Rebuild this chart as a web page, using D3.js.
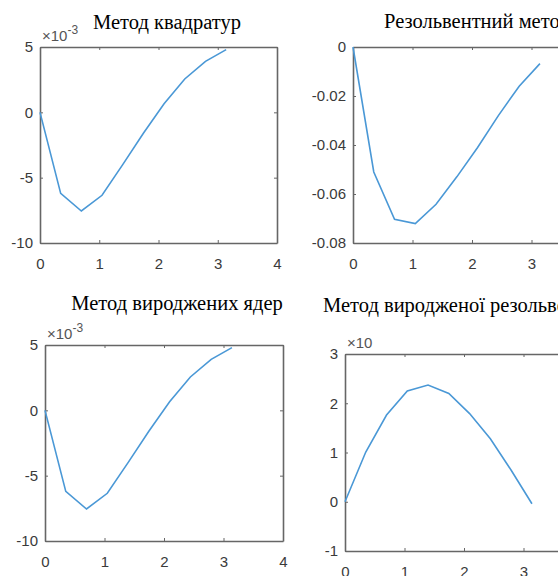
<!DOCTYPE html>
<html>
<head>
<meta charset="utf-8">
<script src="https://cdn.jsdelivr.net/npm/d3@7"></script>
<style>
  body { margin: 0; background: #fff; }
  svg { display: block; }
</style>
</head>
<body>
<svg id="chart"></svg>
<script>
// values
var xs = [0, 0.349, 0.698, 1.047, 1.396, 1.745, 2.094, 2.443, 2.793, 3.142]
var quadrature = [0, -6.2, -7.55, -6.35, -4.0, -1.6, 0.65, 2.55, 3.9, 4.8]        // x1e-3
var resolvent = [0, -0.051, -0.0703, -0.0721, -0.0642, -0.053, -0.041, -0.028, -0.016, -0.0068]
var degKernels = [0, -6.2, -7.55, -6.35, -4.0, -1.6, 0.65, 2.55, 3.9, 4.8]        // x1e-3
var degResolvent = [0, 1.01, 1.76, 2.25, 2.37, 2.2, 1.79, 1.28, 0.64, -0.04]     // x10^?

var titles = ["Метод квадратур", "Резольвентний метод", "Метод вироджених ядер", "Метод виродженої резольвенти"]
var xTicks = [0, 1, 2, 3, 4]
var yTicksA = [-10, -5, 0, 5]
var yTicksB = [-0.08, -0.06, -0.04, -0.02, 0]
var yTicksD = [-1, 0, 1, 2, 3]

var width = 558
var height = 576
var svg = d3.select("#chart").attr("width", width).attr("height", height)

var panels = [
  {x0: 40, x1: 277, y0: 47, y1: 243, ydom: [-10, 5], yt: yTicksA, vals: quadrature, title: titles[0], tx: 167, ty: 29, anchor: "middle", exp: "-3"},
  {x0: 353, x1: 591, y0: 47, y1: 243, ydom: [-0.08, 0], yt: yTicksB, vals: resolvent, title: titles[1], tx: 384, ty: 28, anchor: "start", exp: null},
  {x0: 45, x1: 283, y0: 345, y1: 541, ydom: [-10, 5], yt: yTicksA, vals: degKernels, title: titles[2], tx: 177, ty: 310, anchor: "middle", exp: "-3"},
  {x0: 345, x1: 583, y0: 354, y1: 551, ydom: [-1, 3], yt: yTicksD, vals: degResolvent, title: titles[3], tx: 323, ty: 312, anchor: "start", exp: ""}
]

var axisColor = "#666"

panels.forEach(function(p) {
  var x = d3.scaleLinear().domain([0, 4]).range([p.x0, p.x1])
  var y = d3.scaleLinear().domain(p.ydom).range([p.y1, p.y0])
  var g = svg.append("g")

  // box + inward ticks
  g.append("g").attr("transform", "translate(0," + p.y1 + ")")
    .call(d3.axisBottom(x).tickValues(xTicks).tickSizeInner(-3).tickSizeOuter(0).tickPadding(15)
      .tickFormat(function(d) { return String(d) }))
  g.append("g").attr("transform", "translate(0," + p.y0 + ")")
    .call(d3.axisTop(x).tickValues(xTicks).tickSizeInner(-3).tickSizeOuter(0).tickFormat(""))
  g.append("g").attr("transform", "translate(" + p.x0 + ",0)")
    .call(d3.axisLeft(y).tickValues(p.yt).tickSizeInner(-3).tickSizeOuter(0).tickPadding(7)
      .tickFormat(function(d) { return String(d) }))
  g.append("g").attr("transform", "translate(" + p.x1 + ",0)")
    .call(d3.axisRight(y).tickValues(p.yt).tickSizeInner(-3).tickSizeOuter(0).tickFormat(""))

  g.selectAll(".domain").attr("stroke", axisColor).attr("stroke-width", 1.6)
  g.selectAll(".tick line").attr("stroke", axisColor).attr("stroke-width", 1)
  g.selectAll(".tick text")
    .attr("fill", "#3a3a3a")
    .style("font-family", "Liberation Sans, Arial, sans-serif")
    .style("font-size", "15px")

  // curve
  var line = d3.line().x(function(d, i) { return x(xs[i]) }).y(function(d) { return y(d) })
  g.append("path").datum(p.vals)
    .attr("d", line)
    .attr("fill", "none")
    .attr("stroke", "#4a98d6")
    .attr("stroke-width", 1.6)

  // exponent label
  if (p.exp !== null) {
    var t = g.append("text")
      .attr("x", p.x0 + 2).attr("y", p.y0 - 6)
      .attr("fill", "#555")
      .style("font-family", "Liberation Sans, Arial, sans-serif")
      .style("font-size", "15px")
    t.append("tspan").text("×10")
    if (p.exp) t.append("tspan").attr("dy", -7).style("font-size", "12px").text(p.exp)
  }

  // title
  g.append("text")
    .attr("x", p.tx).attr("y", p.ty)
    .attr("text-anchor", p.anchor)
    .attr("fill", "#000")
    .style("font-family", "Liberation Serif, Times New Roman, serif")
    .style("font-size", "20.5px")
    .text(p.title)
})
</script>
</body>
</html>
